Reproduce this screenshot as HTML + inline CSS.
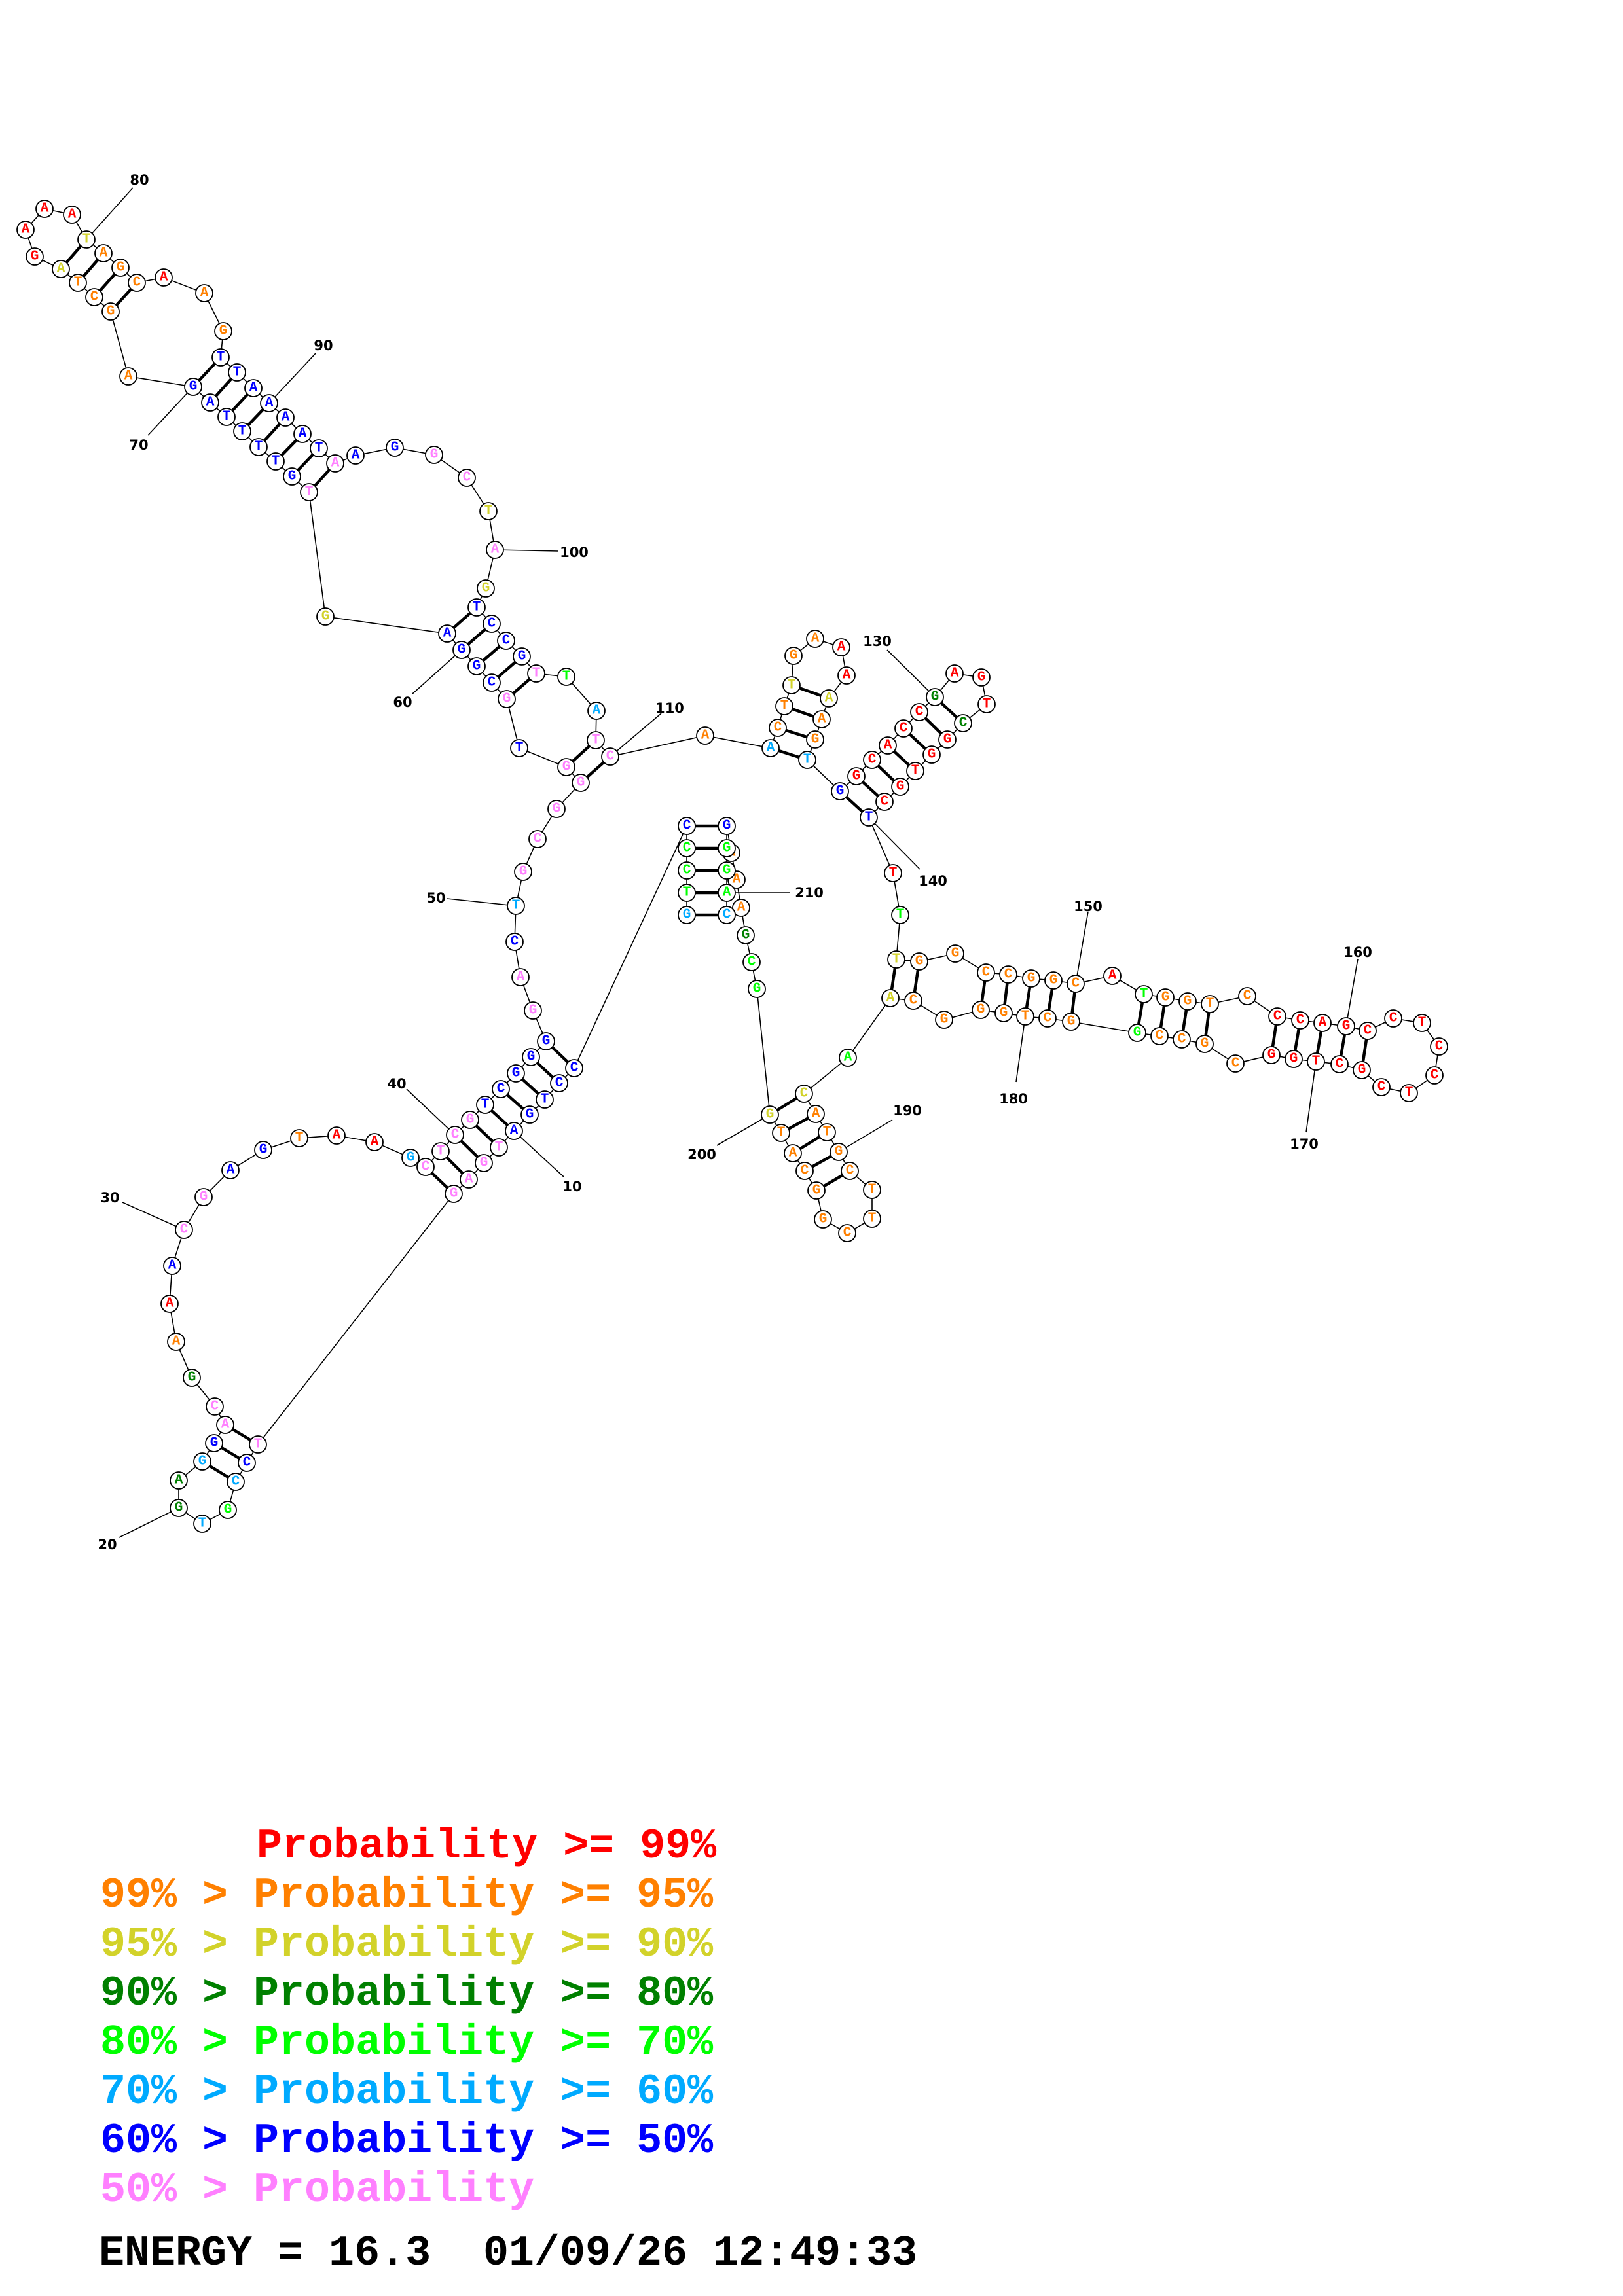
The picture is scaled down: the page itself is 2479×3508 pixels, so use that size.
<!DOCTYPE html>
<html><head><meta charset="utf-8"><style>
html,body{margin:0;padding:0;background:#fff}
svg{display:block}
.n text{font-family:"Liberation Mono","DejaVu Sans Mono",monospace;font-weight:bold;font-size:21px;text-anchor:middle;dominant-baseline:central}
.r{fill:#ff0000}.o{fill:#ff8000}.y{fill:#d2d22a}.d{fill:#008000}.g{fill:#00ff00}.c{fill:#00aaff}.b{fill:#0000ff}.p{fill:#ff80ff}
.lab{font-family:"DejaVu Sans",sans-serif;font-weight:bold;font-size:21px;text-anchor:middle;dominant-baseline:central;fill:#000}
.leg{font-family:"Liberation Mono",monospace;font-weight:bold;font-size:65px}
</style></head><body>
<svg width="2479" height="3508" viewBox="0 0 2479 3508" xmlns="http://www.w3.org/2000/svg">
<g stroke="#000" stroke-width="1.6" fill="none">
<polyline points="1049,1398 1049,1364 1049,1330 1049,1296 1049,1262 877,1632 854,1655 832,1680 809,1703 785,1728 762,1753 739,1777 716,1802 693,1824 394,2207 377,2235 360,2264 348,2307 309,2328 273,2304 273,2262 309,2233 327,2205 344,2177 328,2149 293,2105 269,2050 259,1992 263,1934 281,1879 311,1829 352,1788 402,1757 457,1739 514,1735 572,1745 627,1769 650,1783 673,1759 695,1734 718,1711 741,1688 765,1664 788,1640 811,1615 834,1591 814,1544 795,1493 786,1439 788,1384 799,1332 821,1282 850,1236 887,1196 865,1172 793,1143 774,1068 751,1043 728,1018 705,993 683,968 497,942 472,752 446,728 421,705 395,683 370,659 346,637 321,615 295,591 196,575 169,476 144,454 119,432 93,411 53,392 39,351 68,319 110,328 132,366 158,387 184,409 209,432 250,424 312,448 341,506 337,546 362,569 387,593 411,616 436,638 462,663 487,685 512,708 543,696 603,684 663,695 713,730 746,781 756,840 742,899 728,928 751,953 773,979 797,1003 819,1029 865,1034 911,1086 910,1131 932,1156 1077,1124 1177,1143 1188,1112 1198,1079 1209,1047 1212,1002 1245,976 1285,989 1293,1032 1266,1067 1255,1099 1245,1130 1233,1161 1283,1209 1308,1186 1332,1161 1356,1139 1380,1113 1404,1088 1428,1065 1458,1029 1499,1035 1507,1076 1471,1105 1447,1130 1423,1153 1398,1178 1375,1202 1351,1225 1327,1249 1364,1334 1375,1398 1369,1466 1404,1469 1459,1457 1506,1486 1540,1489 1575,1495 1609,1498 1643,1503 1699,1491 1747,1519 1780,1524 1814,1530 1848,1534 1905,1522 1951,1553 1986,1559 2020,1563 2056,1568 2089,1575 2128,1556 2172,1563 2198,1599 2191,1643 2152,1670 2110,1661 2080,1635 2046,1626 2010,1622 1976,1618 1942,1612 1887,1625 1840,1595 1805,1588 1771,1583 1737,1578 1636,1561 1600,1556 1566,1553 1533,1548 1498,1543 1442,1558 1395,1529 1360,1525 1295,1616 1228,1671 1246,1702 1263,1730 1281,1760 1298,1789 1332,1818 1332,1862 1294,1884 1257,1863 1247,1819 1229,1789 1211,1762 1193,1731 1176,1703 1156,1511 1148,1470 1139,1429 1132,1387 1125,1344 1117,1303 1110,1262 1110,1296 1110,1330 1110,1364 1110,1398"/>
<path d="M785,1728L861,1798 M273,2304L182,2349 M281,1879L187,1837 M695,1734L621,1664 M788,1384L683,1373 M705,993L630,1060 M295,591L226,665 M132,366L203,287 M411,616L482,540 M756,840L853,842 M932,1156L1010,1090 M1428,1065L1355,993 M1327,1249L1405,1328 M1643,1503L1662,1393 M2056,1568L2074,1465 M2010,1622L1995,1730 M1566,1553L1552,1653 M1281,1760L1363,1711 M1176,1703L1095,1750 M1110,1364L1206,1364"/>
</g>
<g stroke="#000" stroke-width="4.5">
<path d="M1049,1398L1110,1398M1049,1364L1110,1364M1049,1330L1110,1330M1049,1296L1110,1296M1049,1262L1110,1262
M877,1632L834,1591M854,1655L811,1615M832,1680L788,1640M809,1703L765,1664M785,1728L741,1688M762,1753L718,1711M739,1777L695,1734M716,1802L673,1759M693,1824L650,1783
M394,2207L344,2177M377,2235L327,2205M360,2264L309,2233
M774,1068L819,1029M751,1043L797,1003M728,1018L773,979M705,993L751,953M683,968L728,928
M887,1196L932,1156M865,1172L910,1131
M472,752L512,708M446,728L487,685M421,705L462,663M395,683L436,638M370,659L411,616M346,637L387,593M321,615L362,569M295,591L337,546
M169,476L209,432M144,454L184,409M119,432L158,387M93,411L132,366
M1177,1143L1233,1161M1188,1112L1245,1130M1198,1079L1255,1099M1209,1047L1266,1067
M1283,1209L1327,1249M1308,1186L1351,1225M1332,1161L1375,1202M1356,1139L1398,1178M1380,1113L1423,1153M1404,1088L1447,1130M1428,1065L1471,1105
M1369,1466L1360,1525M1404,1469L1395,1529M1506,1486L1498,1543M1540,1489L1533,1548M1575,1495L1566,1553M1609,1498L1600,1556M1643,1503L1636,1561M1747,1519L1737,1578M1780,1524L1771,1583M1814,1530L1805,1588M1848,1534L1840,1595M1951,1553L1942,1612M1986,1559L1976,1618M2020,1563L2010,1622M2056,1568L2046,1626M2089,1575L2080,1635
M1228,1671L1176,1703M1246,1702L1193,1731M1263,1730L1211,1762M1281,1760L1229,1789M1298,1789L1247,1819"/>
</g>
<g class="n" stroke="#000" stroke-width="1.8"><g fill="#fff"><circle cx="1117" cy="1303" r="13"/></g></g>
<g class="n"><text x="1117" y="1303" class="o">A</text></g>
<g class="n">
<g fill="#fff" stroke="#000" stroke-width="1.8">
<circle cx="1049" cy="1398" r="13"/><circle cx="1049" cy="1364" r="13"/><circle cx="1049" cy="1330" r="13"/><circle cx="1049" cy="1296" r="13"/><circle cx="1049" cy="1262" r="13"/>
<circle cx="877" cy="1632" r="13"/><circle cx="854" cy="1655" r="13"/><circle cx="832" cy="1680" r="13"/><circle cx="809" cy="1703" r="13"/><circle cx="785" cy="1728" r="13"/><circle cx="762" cy="1753" r="13"/><circle cx="739" cy="1777" r="13"/><circle cx="716" cy="1802" r="13"/><circle cx="693" cy="1824" r="13"/>
<circle cx="394" cy="2207" r="13"/><circle cx="377" cy="2235" r="13"/><circle cx="360" cy="2264" r="13"/><circle cx="348" cy="2307" r="13"/><circle cx="309" cy="2328" r="13"/><circle cx="273" cy="2304" r="13"/><circle cx="273" cy="2262" r="13"/><circle cx="309" cy="2233" r="13"/><circle cx="327" cy="2205" r="13"/><circle cx="344" cy="2177" r="13"/><circle cx="328" cy="2149" r="13"/><circle cx="293" cy="2105" r="13"/><circle cx="269" cy="2050" r="13"/><circle cx="259" cy="1992" r="13"/><circle cx="263" cy="1934" r="13"/><circle cx="281" cy="1879" r="13"/><circle cx="311" cy="1829" r="13"/><circle cx="352" cy="1788" r="13"/><circle cx="402" cy="1757" r="13"/><circle cx="457" cy="1739" r="13"/><circle cx="514" cy="1735" r="13"/><circle cx="572" cy="1745" r="13"/><circle cx="627" cy="1769" r="13"/>
<circle cx="650" cy="1783" r="13"/><circle cx="673" cy="1759" r="13"/><circle cx="695" cy="1734" r="13"/><circle cx="718" cy="1711" r="13"/><circle cx="741" cy="1688" r="13"/><circle cx="765" cy="1664" r="13"/><circle cx="788" cy="1640" r="13"/><circle cx="811" cy="1615" r="13"/><circle cx="834" cy="1591" r="13"/><circle cx="814" cy="1544" r="13"/><circle cx="795" cy="1493" r="13"/><circle cx="786" cy="1439" r="13"/><circle cx="788" cy="1384" r="13"/><circle cx="799" cy="1332" r="13"/><circle cx="821" cy="1282" r="13"/><circle cx="850" cy="1236" r="13"/><circle cx="887" cy="1196" r="13"/><circle cx="865" cy="1172" r="13"/><circle cx="793" cy="1143" r="13"/><circle cx="774" cy="1068" r="13"/><circle cx="751" cy="1043" r="13"/><circle cx="728" cy="1018" r="13"/><circle cx="705" cy="993" r="13"/><circle cx="683" cy="968" r="13"/><circle cx="497" cy="942" r="13"/>
<circle cx="472" cy="752" r="13"/><circle cx="446" cy="728" r="13"/><circle cx="421" cy="705" r="13"/><circle cx="395" cy="683" r="13"/><circle cx="370" cy="659" r="13"/><circle cx="346" cy="637" r="13"/><circle cx="321" cy="615" r="13"/><circle cx="295" cy="591" r="13"/><circle cx="196" cy="575" r="13"/><circle cx="169" cy="476" r="13"/><circle cx="144" cy="454" r="13"/><circle cx="119" cy="432" r="13"/><circle cx="93" cy="411" r="13"/><circle cx="53" cy="392" r="13"/><circle cx="39" cy="351" r="13"/><circle cx="68" cy="319" r="13"/><circle cx="110" cy="328" r="13"/><circle cx="132" cy="366" r="13"/><circle cx="158" cy="387" r="13"/><circle cx="184" cy="409" r="13"/><circle cx="209" cy="432" r="13"/><circle cx="250" cy="424" r="13"/><circle cx="312" cy="448" r="13"/><circle cx="341" cy="506" r="13"/><circle cx="337" cy="546" r="13"/><circle cx="362" cy="569" r="13"/><circle cx="387" cy="593" r="13"/><circle cx="411" cy="616" r="13"/><circle cx="436" cy="638" r="13"/><circle cx="462" cy="663" r="13"/><circle cx="487" cy="685" r="13"/><circle cx="512" cy="708" r="13"/><circle cx="543" cy="696" r="13"/><circle cx="603" cy="684" r="13"/><circle cx="663" cy="695" r="13"/><circle cx="713" cy="730" r="13"/><circle cx="746" cy="781" r="13"/><circle cx="756" cy="840" r="13"/><circle cx="742" cy="899" r="13"/><circle cx="728" cy="928" r="13"/><circle cx="751" cy="953" r="13"/><circle cx="773" cy="979" r="13"/><circle cx="797" cy="1003" r="13"/><circle cx="819" cy="1029" r="13"/><circle cx="865" cy="1034" r="13"/><circle cx="911" cy="1086" r="13"/><circle cx="910" cy="1131" r="13"/><circle cx="932" cy="1156" r="13"/><circle cx="1077" cy="1124" r="13"/>
<circle cx="1177" cy="1143" r="13"/><circle cx="1188" cy="1112" r="13"/><circle cx="1198" cy="1079" r="13"/><circle cx="1209" cy="1047" r="13"/><circle cx="1212" cy="1002" r="13"/><circle cx="1245" cy="976" r="13"/><circle cx="1285" cy="989" r="13"/><circle cx="1293" cy="1032" r="13"/><circle cx="1266" cy="1067" r="13"/><circle cx="1255" cy="1099" r="13"/><circle cx="1245" cy="1130" r="13"/><circle cx="1233" cy="1161" r="13"/><circle cx="1283" cy="1209" r="13"/><circle cx="1308" cy="1186" r="13"/><circle cx="1332" cy="1161" r="13"/><circle cx="1356" cy="1139" r="13"/><circle cx="1380" cy="1113" r="13"/><circle cx="1404" cy="1088" r="13"/><circle cx="1428" cy="1065" r="13"/><circle cx="1458" cy="1029" r="13"/><circle cx="1499" cy="1035" r="13"/><circle cx="1507" cy="1076" r="13"/><circle cx="1471" cy="1105" r="13"/><circle cx="1447" cy="1130" r="13"/><circle cx="1423" cy="1153" r="13"/><circle cx="1398" cy="1178" r="13"/><circle cx="1375" cy="1202" r="13"/><circle cx="1351" cy="1225" r="13"/><circle cx="1327" cy="1249" r="13"/>
<circle cx="1364" cy="1334" r="13"/><circle cx="1375" cy="1398" r="13"/><circle cx="1369" cy="1466" r="13"/><circle cx="1404" cy="1469" r="13"/><circle cx="1459" cy="1457" r="13"/><circle cx="1506" cy="1486" r="13"/><circle cx="1540" cy="1489" r="13"/><circle cx="1575" cy="1495" r="13"/><circle cx="1609" cy="1498" r="13"/><circle cx="1643" cy="1503" r="13"/><circle cx="1699" cy="1491" r="13"/><circle cx="1747" cy="1519" r="13"/><circle cx="1780" cy="1524" r="13"/><circle cx="1814" cy="1530" r="13"/><circle cx="1848" cy="1534" r="13"/><circle cx="1905" cy="1522" r="13"/><circle cx="1951" cy="1553" r="13"/><circle cx="1986" cy="1559" r="13"/><circle cx="2020" cy="1563" r="13"/><circle cx="2056" cy="1568" r="13"/><circle cx="2089" cy="1575" r="13"/><circle cx="2128" cy="1556" r="13"/><circle cx="2172" cy="1563" r="13"/><circle cx="2198" cy="1599" r="13"/><circle cx="2191" cy="1643" r="13"/><circle cx="2152" cy="1670" r="13"/><circle cx="2110" cy="1661" r="13"/><circle cx="2080" cy="1635" r="13"/><circle cx="2046" cy="1626" r="13"/><circle cx="2010" cy="1622" r="13"/><circle cx="1976" cy="1618" r="13"/><circle cx="1942" cy="1612" r="13"/><circle cx="1887" cy="1625" r="13"/><circle cx="1840" cy="1595" r="13"/><circle cx="1805" cy="1588" r="13"/><circle cx="1771" cy="1583" r="13"/><circle cx="1737" cy="1578" r="13"/><circle cx="1636" cy="1561" r="13"/><circle cx="1600" cy="1556" r="13"/><circle cx="1566" cy="1553" r="13"/><circle cx="1533" cy="1548" r="13"/><circle cx="1498" cy="1543" r="13"/><circle cx="1442" cy="1558" r="13"/><circle cx="1395" cy="1529" r="13"/><circle cx="1360" cy="1525" r="13"/>
<circle cx="1295" cy="1616" r="13"/><circle cx="1228" cy="1671" r="13"/><circle cx="1246" cy="1702" r="13"/><circle cx="1263" cy="1730" r="13"/><circle cx="1281" cy="1760" r="13"/><circle cx="1298" cy="1789" r="13"/><circle cx="1332" cy="1818" r="13"/><circle cx="1332" cy="1862" r="13"/><circle cx="1294" cy="1884" r="13"/><circle cx="1257" cy="1863" r="13"/><circle cx="1247" cy="1819" r="13"/><circle cx="1229" cy="1789" r="13"/><circle cx="1211" cy="1762" r="13"/><circle cx="1193" cy="1731" r="13"/><circle cx="1176" cy="1703" r="13"/><circle cx="1156" cy="1511" r="13"/><circle cx="1148" cy="1470" r="13"/><circle cx="1139" cy="1429" r="13"/><circle cx="1132" cy="1387" r="13"/><circle cx="1125" cy="1344" r="13"/>
<circle cx="1110" cy="1262" r="13"/><circle cx="1110" cy="1296" r="13"/><circle cx="1110" cy="1330" r="13"/><circle cx="1110" cy="1364" r="13"/><circle cx="1110" cy="1398" r="13"/>
</g>
<text x="1049" y="1398" class="c">G</text><text x="1049" y="1364" class="g">T</text><text x="1049" y="1330" class="g">C</text><text x="1049" y="1296" class="g">C</text><text x="1049" y="1262" class="b">C</text>
<text x="877" y="1632" class="b">C</text><text x="854" y="1655" class="b">C</text><text x="832" y="1680" class="b">T</text><text x="809" y="1703" class="b">G</text><text x="785" y="1728" class="b">A</text><text x="762" y="1753" class="p">T</text><text x="739" y="1777" class="p">G</text><text x="716" y="1802" class="p">A</text><text x="693" y="1824" class="p">G</text>
<text x="394" y="2207" class="p">T</text><text x="377" y="2235" class="b">C</text><text x="360" y="2264" class="c">C</text><text x="348" y="2307" class="g">G</text><text x="309" y="2328" class="c">T</text><text x="273" y="2304" class="d">G</text><text x="273" y="2262" class="d">A</text><text x="309" y="2233" class="c">G</text><text x="327" y="2205" class="b">G</text><text x="344" y="2177" class="p">A</text><text x="328" y="2149" class="p">C</text><text x="293" y="2105" class="d">G</text><text x="269" y="2050" class="o">A</text><text x="259" y="1992" class="r">A</text><text x="263" y="1934" class="b">A</text><text x="281" y="1879" class="p">C</text><text x="311" y="1829" class="p">G</text><text x="352" y="1788" class="b">A</text><text x="402" y="1757" class="b">G</text><text x="457" y="1739" class="o">T</text><text x="514" y="1735" class="r">A</text><text x="572" y="1745" class="r">A</text><text x="627" y="1769" class="c">G</text>
<text x="650" y="1783" class="p">C</text><text x="673" y="1759" class="p">T</text><text x="695" y="1734" class="p">C</text><text x="718" y="1711" class="p">G</text><text x="741" y="1688" class="b">T</text><text x="765" y="1664" class="b">C</text><text x="788" y="1640" class="b">G</text><text x="811" y="1615" class="b">G</text><text x="834" y="1591" class="b">G</text><text x="814" y="1544" class="p">G</text><text x="795" y="1493" class="p">A</text><text x="786" y="1439" class="b">C</text><text x="788" y="1384" class="c">T</text><text x="799" y="1332" class="p">G</text><text x="821" y="1282" class="p">C</text><text x="850" y="1236" class="p">G</text><text x="887" y="1196" class="p">G</text><text x="865" y="1172" class="p">G</text><text x="793" y="1143" class="b">T</text><text x="774" y="1068" class="p">G</text><text x="751" y="1043" class="b">C</text><text x="728" y="1018" class="b">G</text><text x="705" y="993" class="b">G</text><text x="683" y="968" class="b">A</text><text x="497" y="942" class="y">G</text>
<text x="472" y="752" class="p">T</text><text x="446" y="728" class="b">G</text><text x="421" y="705" class="b">T</text><text x="395" y="683" class="b">T</text><text x="370" y="659" class="b">T</text><text x="346" y="637" class="b">T</text><text x="321" y="615" class="b">A</text><text x="295" y="591" class="b">G</text><text x="196" y="575" class="o">A</text><text x="169" y="476" class="o">G</text><text x="144" y="454" class="o">C</text><text x="119" y="432" class="o">T</text><text x="93" y="411" class="y">A</text><text x="53" y="392" class="r">G</text><text x="39" y="351" class="r">A</text><text x="68" y="319" class="r">A</text><text x="110" y="328" class="r">A</text><text x="132" y="366" class="y">T</text><text x="158" y="387" class="o">A</text><text x="184" y="409" class="o">G</text><text x="209" y="432" class="o">C</text><text x="250" y="424" class="r">A</text><text x="312" y="448" class="o">A</text><text x="341" y="506" class="o">G</text><text x="337" y="546" class="b">T</text><text x="362" y="569" class="b">T</text><text x="387" y="593" class="b">A</text><text x="411" y="616" class="b">A</text><text x="436" y="638" class="b">A</text><text x="462" y="663" class="b">A</text><text x="487" y="685" class="b">T</text><text x="512" y="708" class="p">A</text><text x="543" y="696" class="b">A</text><text x="603" y="684" class="b">G</text><text x="663" y="695" class="p">G</text><text x="713" y="730" class="p">C</text><text x="746" y="781" class="y">T</text><text x="756" y="840" class="p">A</text><text x="742" y="899" class="y">G</text><text x="728" y="928" class="b">T</text><text x="751" y="953" class="b">C</text><text x="773" y="979" class="b">C</text><text x="797" y="1003" class="b">G</text><text x="819" y="1029" class="p">T</text><text x="865" y="1034" class="g">T</text><text x="911" y="1086" class="c">A</text><text x="910" y="1131" class="p">T</text><text x="932" y="1156" class="p">C</text><text x="1077" y="1124" class="o">A</text>
<text x="1177" y="1143" class="c">A</text><text x="1188" y="1112" class="o">C</text><text x="1198" y="1079" class="o">T</text><text x="1209" y="1047" class="y">T</text><text x="1212" y="1002" class="o">G</text><text x="1245" y="976" class="o">A</text><text x="1285" y="989" class="r">A</text><text x="1293" y="1032" class="r">A</text><text x="1266" y="1067" class="y">A</text><text x="1255" y="1099" class="o">A</text><text x="1245" y="1130" class="o">G</text><text x="1233" y="1161" class="c">T</text><text x="1283" y="1209" class="b">G</text><text x="1308" y="1186" class="r">G</text><text x="1332" y="1161" class="r">C</text><text x="1356" y="1139" class="r">A</text><text x="1380" y="1113" class="r">C</text><text x="1404" y="1088" class="r">C</text><text x="1428" y="1065" class="d">G</text><text x="1458" y="1029" class="r">A</text><text x="1499" y="1035" class="r">G</text><text x="1507" y="1076" class="r">T</text><text x="1471" y="1105" class="d">C</text><text x="1447" y="1130" class="r">G</text><text x="1423" y="1153" class="r">G</text><text x="1398" y="1178" class="r">T</text><text x="1375" y="1202" class="r">G</text><text x="1351" y="1225" class="r">C</text><text x="1327" y="1249" class="b">T</text>
<text x="1364" y="1334" class="r">T</text><text x="1375" y="1398" class="g">T</text><text x="1369" y="1466" class="y">T</text><text x="1404" y="1469" class="o">G</text><text x="1459" y="1457" class="o">G</text><text x="1506" y="1486" class="o">C</text><text x="1540" y="1489" class="o">C</text><text x="1575" y="1495" class="o">G</text><text x="1609" y="1498" class="o">G</text><text x="1643" y="1503" class="o">C</text><text x="1699" y="1491" class="r">A</text><text x="1747" y="1519" class="g">T</text><text x="1780" y="1524" class="o">G</text><text x="1814" y="1530" class="o">G</text><text x="1848" y="1534" class="o">T</text><text x="1905" y="1522" class="o">C</text><text x="1951" y="1553" class="r">C</text><text x="1986" y="1559" class="r">C</text><text x="2020" y="1563" class="r">A</text><text x="2056" y="1568" class="r">G</text><text x="2089" y="1575" class="r">C</text><text x="2128" y="1556" class="r">C</text><text x="2172" y="1563" class="r">T</text><text x="2198" y="1599" class="r">C</text><text x="2191" y="1643" class="r">C</text><text x="2152" y="1670" class="r">T</text><text x="2110" y="1661" class="r">C</text><text x="2080" y="1635" class="r">G</text><text x="2046" y="1626" class="r">C</text><text x="2010" y="1622" class="r">T</text><text x="1976" y="1618" class="r">G</text><text x="1942" y="1612" class="r">G</text><text x="1887" y="1625" class="o">C</text><text x="1840" y="1595" class="o">G</text><text x="1805" y="1588" class="o">C</text><text x="1771" y="1583" class="o">C</text><text x="1737" y="1578" class="g">G</text><text x="1636" y="1561" class="o">G</text><text x="1600" y="1556" class="o">C</text><text x="1566" y="1553" class="o">T</text><text x="1533" y="1548" class="o">G</text><text x="1498" y="1543" class="o">G</text><text x="1442" y="1558" class="o">G</text><text x="1395" y="1529" class="o">C</text><text x="1360" y="1525" class="y">A</text>
<text x="1295" y="1616" class="g">A</text><text x="1228" y="1671" class="y">C</text><text x="1246" y="1702" class="o">A</text><text x="1263" y="1730" class="o">T</text><text x="1281" y="1760" class="o">G</text><text x="1298" y="1789" class="o">C</text><text x="1332" y="1818" class="o">T</text><text x="1332" y="1862" class="o">T</text><text x="1294" y="1884" class="o">C</text><text x="1257" y="1863" class="o">G</text><text x="1247" y="1819" class="o">G</text><text x="1229" y="1789" class="o">C</text><text x="1211" y="1762" class="o">A</text><text x="1193" y="1731" class="o">T</text><text x="1176" y="1703" class="y">G</text><text x="1156" y="1511" class="g">G</text><text x="1148" y="1470" class="g">C</text><text x="1139" y="1429" class="d">G</text><text x="1132" y="1387" class="o">A</text><text x="1125" y="1344" class="o">A</text>
<text x="1110" y="1262" class="b">G</text><text x="1110" y="1296" class="g">G</text><text x="1110" y="1330" class="g">G</text><text x="1110" y="1364" class="g">A</text><text x="1110" y="1398" class="c">C</text>
</g>
<g class="lab">
<text x="874" y="1813">10</text><text x="164" y="2360">20</text><text x="168" y="1830">30</text><text x="606" y="1656">40</text><text x="666" y="1372">50</text><text x="615" y="1073">60</text><text x="212" y="680">70</text><text x="213" y="275">80</text><text x="494" y="528">90</text><text x="877" y="844">100</text><text x="1023" y="1082">110</text><text x="1340" y="980">130</text><text x="1425" y="1346">140</text><text x="1662" y="1385">150</text><text x="2074" y="1455">160</text><text x="1992" y="1748">170</text><text x="1548" y="1679">180</text><text x="1386" y="1697">190</text><text x="1072" y="1764">200</text><text x="1236" y="1364">210</text>
</g>
<g class="leg">
<text x="392" y="2838" fill="#ff0000">Probability &gt;= 99%</text>
<text x="153" y="2913" fill="#ff8000">99% &gt; Probability &gt;= 95%</text>
<text x="153" y="2988" fill="#d2d22a">95% &gt; Probability &gt;= 90%</text>
<text x="153" y="3063" fill="#008000">90% &gt; Probability &gt;= 80%</text>
<text x="153" y="3138" fill="#00ff00">80% &gt; Probability &gt;= 70%</text>
<text x="153" y="3213" fill="#00aaff">70% &gt; Probability &gt;= 60%</text>
<text x="153" y="3288" fill="#0000ff">60% &gt; Probability &gt;= 50%</text>
<text x="153" y="3363" fill="#ff80ff">50% &gt; Probability</text>
<text x="151" y="3460" fill="#000">ENERGY = 16.3</text>
<text x="738" y="3460" fill="#000">01/09/26 12:49:33</text>
</g>
</svg>
</body></html>
